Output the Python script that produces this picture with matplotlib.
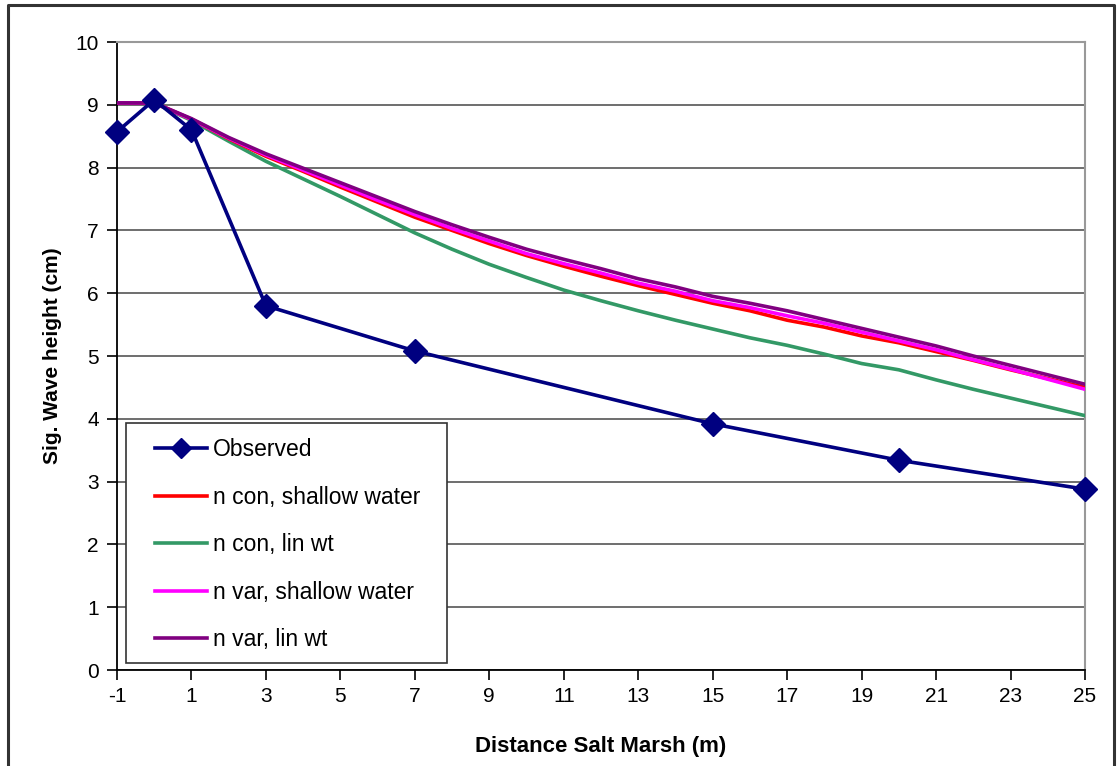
import matplotlib
matplotlib.use("Agg")
import matplotlib.pyplot as plt
from matplotlib.lines import Line2D
from matplotlib.patches import Rectangle

plt.rcParams['font.family'] = ['Liberation Sans', 'DejaVu Sans']
plt.rcParams['axes.unicode_minus'] = False

# Observed significant wave heights
obs_x = [-1, 0, 1, 3, 7, 15, 20, 25]
obs_y = [8.57, 9.08, 8.60, 5.80, 5.08, 3.92, 3.34, 2.88]

# Model runs, evaluated at every metre
model_x = list(range(-1, 26))
n_con_shallow = [9.03, 9.03, 8.77, 8.46, 8.18, 7.94, 7.69, 7.45, 7.21, 7.00, 6.79,
                 6.60, 6.43, 6.27, 6.12, 5.98, 5.84, 5.72, 5.57, 5.46, 5.32, 5.21,
                 5.07, 4.93, 4.78, 4.64, 4.50]
n_con_linwt = [9.03, 9.03, 8.75, 8.42, 8.10, 7.82, 7.54, 7.25, 6.96, 6.70, 6.46,
               6.25, 6.05, 5.88, 5.72, 5.57, 5.43, 5.29, 5.17, 5.03, 4.88, 4.78,
               4.62, 4.47, 4.33, 4.19, 4.05]
n_var_shallow = [9.03, 9.03, 8.77, 8.47, 8.20, 7.96, 7.72, 7.48, 7.25, 7.03, 6.83,
                 6.63, 6.47, 6.32, 6.16, 6.03, 5.88, 5.77, 5.64, 5.52, 5.38, 5.24,
                 5.10, 4.94, 4.79, 4.63, 4.47]
n_var_linwt = [9.03, 9.03, 8.78, 8.48, 8.22, 7.99, 7.76, 7.53, 7.30, 7.09, 6.89,
               6.70, 6.54, 6.39, 6.23, 6.10, 5.95, 5.84, 5.72, 5.58, 5.44, 5.30,
               5.16, 5.00, 4.85, 4.70, 4.55]

x_ticks = list(range(-1, 26, 2))
y_ticks = list(range(0, 11))

W, H = 1119, 766
AX_L, AX_R, AX_T, AX_B = 117, 1085, 42, 670
fig = plt.figure(figsize=(W / 100, H / 100), dpi=100)
ax = fig.add_axes([AX_L / W, 1 - AX_B / H, (AX_R - AX_L) / W, (AX_B - AX_T) / H])


def ax_frac(px, py):
    """Pixel position in the figure -> axes fraction."""
    return (px - AX_L) / (AX_R - AX_L), (AX_B - py) / (AX_B - AX_T)


# outer frame of the chart
fig.add_artist(Line2D([8 / W, 8 / W, 1114 / W, 1114 / W], [-0.01, 1 - 5 / H, 1 - 5 / H, -0.01],
                      transform=fig.transFigure, color='#333333', lw=2.2))

navy = '#000080'
ax.plot(model_x, n_con_linwt, color='#339966', lw=2.6, label='n con, lin wt', zorder=3)
ax.plot(model_x, n_con_shallow, color='#ff0000', lw=2.6, label='n con, shallow water', zorder=4)
ax.plot(model_x, n_var_shallow, color='#ff00ff', lw=2.6, label='n var, shallow water', zorder=5)
ax.plot(model_x, n_var_linwt, color='#800080', lw=2.6, label='n var, lin wt', zorder=6)
ax.plot(obs_x, obs_y, color=navy, lw=2.6, marker='D', markersize=12.5,
        markerfacecolor=navy, markeredgecolor=navy, label='Observed', zorder=7,
        clip_on=False)

ax.set_xlim(-1, 25)
ax.set_ylim(0, 10)
ax.set_xticks(x_ticks)
ax.set_yticks(y_ticks)
ax.grid(axis='y', color='#555555', lw=1.2)
ax.set_axisbelow(True)

for s in ['top', 'right']:
    ax.spines[s].set_color('#999999')
    ax.spines[s].set_linewidth(1.5)
for s in ['left', 'bottom']:
    ax.spines[s].set_color('black')
    ax.spines[s].set_linewidth(1.3)

ax.tick_params(axis='both', direction='out', length=7, width=1.2, labelsize=15, colors='black')
ax.tick_params(axis='x', pad=5)
ax.tick_params(axis='y', pad=6)

ax.set_xlabel('Distance Salt Marsh (m)', fontsize=16, fontweight='bold', labelpad=22)
ax.set_ylabel('Sig. Wave height (cm)', fontsize=15, fontweight='bold', labelpad=10)

# legend box
x0, y0 = ax_frac(126, 663)
x1, y1 = ax_frac(447, 423)
ax.add_patch(Rectangle((x0, y0), x1 - x0, y1 - y0, transform=ax.transAxes,
                       facecolor='white', edgecolor='#333333', lw=1.2, zorder=9))

handles, labels = ax.get_legend_handles_labels()
order = ['Observed', 'n con, shallow water', 'n con, lin wt', 'n var, shallow water', 'n var, lin wt']
hmap = dict(zip(labels, handles))
leg = ax.legend([hmap[k] for k in order], order, loc='upper left',
                bbox_to_anchor=ax_frac(155, 438),
                fontsize=16.5, frameon=False, borderaxespad=0, borderpad=0,
                handlelength=2.25, handletextpad=0.26, labelspacing=1.07,
                markerscale=0.85)
leg.set_zorder(10)

fig.savefig('out.png', dpi=100)
